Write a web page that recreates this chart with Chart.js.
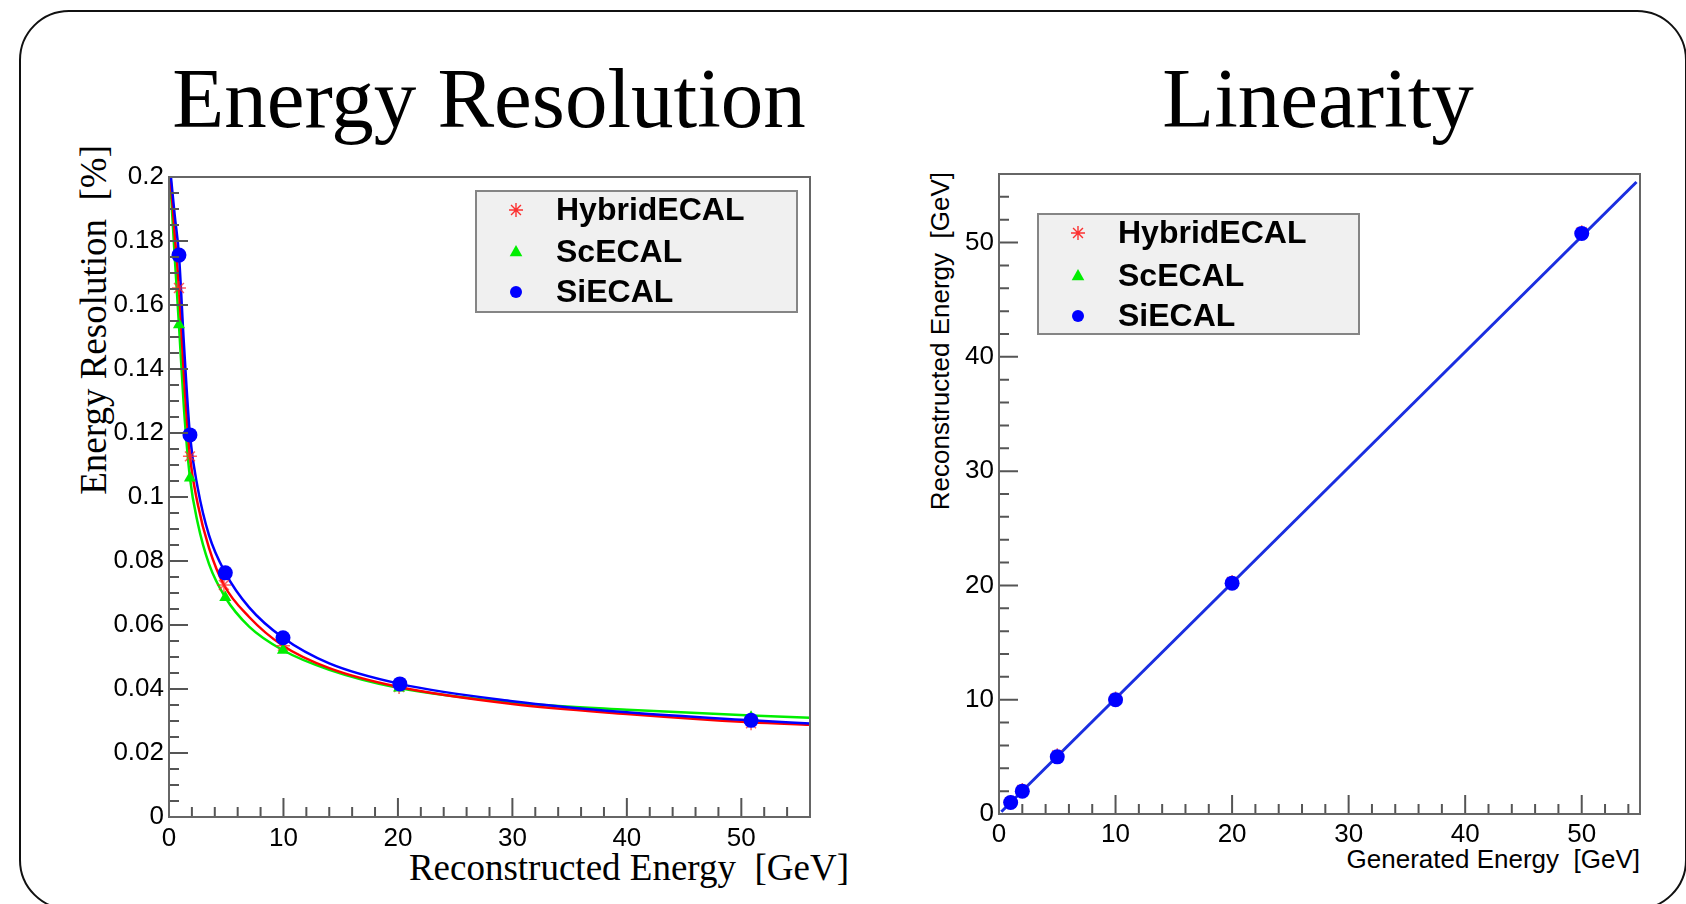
<!DOCTYPE html>
<html>
<head>
<meta charset="utf-8">
<script src="https://cdn.jsdelivr.net/npm/chart.js@4.4.1/dist/chart.umd.min.js"></script>
<style>
  html, body { margin: 0; padding: 0; background: #fff; width: 1686px; height: 904px; overflow: hidden; }
  #frame { position: absolute; left: 19px; top: 10px; width: 1668px; height: 900px; border: 2.5px solid #111; border-radius: 50px; box-sizing: border-box; }
  .title { position: absolute; top: 56px; transform: translateX(-50%); font-family: "Liberation Serif", "Times New Roman", serif; font-size: 85px; line-height: 1; color: #000; white-space: nowrap; }
  .axt { position: absolute; line-height: 1; color: #000; white-space: pre; }
  .serif { font-family: "Liberation Serif", "Times New Roman", serif; font-size: 37px; }
  .sans { font-family: "Liberation Sans", Arial, sans-serif; font-size: 26px; }
  .vert { transform-origin: 0 0; transform: rotate(-90deg) translateX(-100%); }
  .endx { transform: translateX(-100%); }
  canvas { position: absolute; }
</style>
</head>
<body>
<div id="frame"></div>
<div class="title" style="left:489px">Energy Resolution</div>
<div class="title" style="left:1318px">Linearity</div>
<div class="axt serif vert" style="left:75px; top:145px">Energy Resolution  [%]</div>
<div class="axt serif endx" style="left:849px; top:849px">Reconstructed Energy  [GeV]</div>
<div class="axt sans vert" style="left:927px; top:172px">Reconstructed Energy  [GeV]</div>
<div class="axt sans endx" style="left:1640px; top:846px">Generated Energy  [GeV]</div>
<div style="position:absolute;left:60px;top:150px;width:780px;height:740px"><canvas id="res" width="780" height="740"></canvas></div>
<div style="position:absolute;left:900px;top:150px;width:770px;height:740px"><canvas id="lin" width="770" height="740"></canvas></div>
<script>
// ---- Energy resolution: measured points (x = reconstructed energy, GeV) ----
const hybridE   = [0.87, 1.83, 4.8, 9.96, 20.1, 50.85];
const hybridRes = [0.1653, 0.1127, 0.0725, 0.0535, 0.0406, 0.0293];
const scE       = [0.87, 1.83, 4.92, 9.96, 20.1, 50.85];
const scRes     = [0.1538, 0.1059, 0.0686, 0.0521, 0.0403, 0.0312];
const siE       = [0.87, 1.83, 4.92, 9.96, 20.17, 50.85];
const siRes     = [0.1756, 0.1194, 0.0763, 0.0560, 0.0416, 0.0302];

// ---- Energy resolution: fitted curves, sampled along the axis ----
const hybridFitE   = [0.13, 0.5, 0.87, 1.3, 1.83, 2.5, 3.5, 4.8, 7, 9.96, 14, 20.1, 30, 40, 50.85, 56];
const hybridFitRes = [0.2, 0.182, 0.1653, 0.138, 0.1127, 0.098, 0.084, 0.0725, 0.0625, 0.0535, 0.0465, 0.0406, 0.0353, 0.0322, 0.0296, 0.0288];
const scFitE       = [0.09, 0.5, 0.87, 1.3, 1.83, 2.5, 3.5, 4.92, 7, 9.96, 14, 20.1, 30, 40, 50.85, 56];
const scFitRes     = [0.2, 0.175, 0.1538, 0.128, 0.106, 0.092, 0.079, 0.0686, 0.0595, 0.0521, 0.046, 0.0403, 0.0358, 0.0335, 0.0317, 0.031];
const siFitE       = [0.17, 0.5, 0.87, 1.3, 1.83, 2.5, 3.5, 4.92, 7, 9.96, 14, 20.17, 30, 40, 50.85, 56];
const siFitRes     = [0.2, 0.188, 0.1756, 0.148, 0.1194, 0.103, 0.088, 0.0763, 0.0655, 0.056, 0.048, 0.0416, 0.0362, 0.0327, 0.0302, 0.0292];

// ---- Linearity: generated vs reconstructed energy (GeV) ----
const genE      = [1, 2, 5, 10, 20, 50];
const hybridRec = [1.05, 2.1, 5.15, 10.1, 20.3, 50.9];
const scRec     = [0.95, 1.9, 4.9, 9.9, 20.1, 50.7];
const siRec     = [1.0, 2.0, 5.0, 10.0, 20.2, 50.8];
const linFitGen = [0.2, 54.7];
const linFitRec = [0.2, 55.3];

// ---- Axis ticks and labels ----
const resXTicks  = [0, 10, 20, 30, 40, 50];
const resXLabels = ['0', '10', '20', '30', '40', '50'];
const resYTicks  = [0, 0.02, 0.04, 0.06, 0.08, 0.1, 0.12, 0.14, 0.16, 0.18, 0.2];
const resYLabels = ['0', '0.02', '0.04', '0.06', '0.08', '0.1', '0.12', '0.14', '0.16', '0.18', '0.2'];
const linXTicks  = [0, 10, 20, 30, 40, 50];
const linXLabels = ['0', '10', '20', '30', '40', '50'];
const linYTicks  = [0, 10, 20, 30, 40, 50];
const linYLabels = ['0', '10', '20', '30', '40', '50'];

const seriesNames = ['HybridECAL', 'ScECAL', 'SiECAL'];
const RED = '#ff0000', GREEN = '#00ee00', BLUE = '#0000ff';

const pts = (xs, ys) => xs.map((x, i) => ({ x: x, y: ys[i] }));

// draw one ROOT-like marker
function marker(ctx, style, x, y, r, color) {
  ctx.save();
  ctx.fillStyle = color; ctx.strokeStyle = color;
  if (style === 'circle') {
    ctx.beginPath(); ctx.arc(x, y, r, 0, Math.PI * 2); ctx.fill();
  } else if (style === 'triangle') {
    ctx.beginPath();
    ctx.moveTo(x, y - r); ctx.lineTo(x + r * 0.9, y + r * 0.6); ctx.lineTo(x - r * 0.9, y + r * 0.6);
    ctx.closePath(); ctx.fill();
  } else {
    ctx.lineWidth = 1.4; ctx.globalAlpha = 0.8;
    ctx.beginPath();
    for (let k = 0; k < 4; k++) {
      const a = k * Math.PI / 4;
      ctx.moveTo(x - r * Math.cos(a), y - r * Math.sin(a));
      ctx.lineTo(x + r * Math.cos(a), y + r * Math.sin(a));
    }
    ctx.stroke();
  }
  ctx.restore();
}

// frame, inward ticks and the legend box
const rootStyle = {
  id: 'rootStyle',
  afterDatasetsDraw(chart, args, opts) {
    const ctx = chart.ctx, a = chart.chartArea;
    const sx = chart.scales.x, sy = chart.scales.y;
    ctx.save();
    ctx.strokeStyle = '#555'; ctx.lineWidth = 2;
    ctx.beginPath();
    opts.xMinor.forEach(v => { const p = sx.getPixelForValue(v); ctx.moveTo(p, a.bottom); ctx.lineTo(p, a.bottom - 10); });
    opts.xMajor.forEach(v => { const p = sx.getPixelForValue(v); ctx.moveTo(p, a.bottom); ctx.lineTo(p, a.bottom - 19); });
    opts.yMinor.forEach(v => { const p = sy.getPixelForValue(v); ctx.moveTo(a.left, p); ctx.lineTo(a.left + 10, p); });
    opts.yMajor.forEach(v => { const p = sy.getPixelForValue(v); ctx.moveTo(a.left, p); ctx.lineTo(a.left + 19, p); });
    ctx.stroke();
    ctx.strokeStyle = '#666'; ctx.lineWidth = 2;
    ctx.strokeRect(a.left, a.top, a.right - a.left, a.bottom - a.top);

    const L = opts.legend;
    ctx.fillStyle = '#f0f0f0';
    ctx.fillRect(L.x, L.y, L.w, L.h);
    ctx.strokeStyle = '#858585'; ctx.lineWidth = 2;
    ctx.strokeRect(L.x, L.y, L.w, L.h);
    ctx.font = 'bold 32px "Liberation Sans", Arial, sans-serif';
    ctx.textBaseline = 'middle'; ctx.textAlign = 'left';
    L.items.forEach((it, i) => {
      const yy = L.y + L.rows[i];
      marker(ctx, it.style, L.x + L.mx, yy, it.r, it.color);
      ctx.fillStyle = '#000';
      ctx.fillText(it.text, L.x + L.tx, yy + 1);
    });
    ctx.restore();
  }
};

function steps(lo, hi, step) {
  const out = [];
  for (let v = lo; v <= hi + 1e-9; v += step) out.push(+v.toFixed(6));
  return out;
}

const tickFont = { family: '"Liberation Sans", Arial, sans-serif', size: 26 };

function axis(min, max, ticks, labels, pos, size, pad) {
  return {
    type: 'linear', position: pos, min: min, max: max,
    grid: { display: false, drawTicks: false, tickLength: 0 }, border: { display: false },
    afterBuildTicks: s => { s.ticks = ticks.map(v => ({ value: v })); },
    ticks: {
      font: tickFont, color: '#000', padding: pad, autoSkip: false, maxRotation: 0,
      callback: v => { const i = ticks.findIndex(t => Math.abs(t - v) < 1e-9); return i >= 0 ? labels[i] : ''; }
    },
    afterFit: s => {
      if (pos === 'left') s.width = size; else s.height = size;
      s.paddingTop = 0; s.paddingBottom = 0; s.paddingLeft = 0; s.paddingRight = 0;
    }
  };
}

const legendItems = [
  { text: seriesNames[0], style: 'star', color: RED, r: 7 },
  { text: seriesNames[1], style: 'triangle', color: GREEN, r: 7 },
  { text: seriesNames[2], style: 'circle', color: BLUE, r: 6 }
];

const curve = (label, xs, ys, color, order) => ({
  type: 'line', label: label, data: pts(xs, ys), borderColor: color, borderWidth: 2.5,
  pointRadius: 0, fill: false, cubicInterpolationMode: 'monotone', order: order
});
const scatter = (label, xs, ys, style, color, r, order) => ({
  type: 'scatter', label: label, data: pts(xs, ys), pointStyle: style,
  pointRadius: r, pointBackgroundColor: color, pointBorderColor: color,
  pointBorderWidth: style === 'star' ? 1.5 : 0, order: order
});

new Chart(document.getElementById('res'), {
  data: {
    datasets: [
      scatter(seriesNames[2], siE, siRes, 'circle', BLUE, 7.5, 0),
      scatter(seriesNames[1], scE, scRes, 'triangle', GREEN, 7, 1),
      scatter(seriesNames[0], hybridE, hybridRes, 'star', 'rgba(255,40,40,0.75)', 7, 2),
      curve(seriesNames[2] + ' fit', siFitE, siFitRes, BLUE, 3),
      curve(seriesNames[0] + ' fit', hybridFitE, hybridFitRes, RED, 4),
      curve(seriesNames[1] + ' fit', scFitE, scFitRes, GREEN, 5)
    ]
  },
  options: {
    responsive: false, animation: false, devicePixelRatio: 1,
    layout: { padding: { left: 0, top: 27, right: 30, bottom: 0 } },
    plugins: {
      legend: { display: false }, tooltip: { enabled: false },
      rootStyle: {
        xMajor: resXTicks, xMinor: steps(0, 56, 2), yMajor: resYTicks, yMinor: steps(0, 0.2, 0.005),
        legend: { x: 416, y: 41, w: 321, h: 121, mx: 40, tx: 80, rows: [19, 61, 101], items: legendItems }
      }
    },
    scales: {
      x: axis(0, 56, resXTicks, resXLabels, 'bottom', 73, 6),
      y: axis(0, 0.2, resYTicks, resYLabels, 'left', 109, 5)
    }
  },
  plugins: [rootStyle]
});

new Chart(document.getElementById('lin'), {
  data: {
    datasets: [
      scatter(seriesNames[2], genE, siRec, 'circle', BLUE, 7.5, 0),
      scatter(seriesNames[1], genE, scRec, 'triangle', GREEN, 7, 1),
      scatter(seriesNames[0], genE, hybridRec, 'star', 'rgba(255,40,40,0.75)', 7, 2),
      { type: 'line', label: seriesNames[2] + ' fit', data: pts(linFitGen, linFitRec), borderColor: '#1a2ee0',
        borderWidth: 3, pointRadius: 0, fill: false, order: 3 }
    ]
  },
  options: {
    responsive: false, animation: false, devicePixelRatio: 1,
    layout: { padding: { left: 0, top: 24, right: 30, bottom: 0 } },
    plugins: {
      legend: { display: false }, tooltip: { enabled: false },
      rootStyle: {
        xMajor: linXTicks, xMinor: steps(0, 55, 2), yMajor: linYTicks, yMinor: steps(0, 56, 2),
        legend: { x: 138, y: 64, w: 321, h: 120, mx: 40, tx: 80, rows: [19, 62, 102], items: legendItems }
      }
    },
    scales: {
      x: axis(0, 55, linXTicks, linXLabels, 'bottom', 76, 5),
      y: axis(0, 56, linYTicks, linYLabels, 'left', 99, 5)
    }
  },
  plugins: [rootStyle]
});
</script>
</body>
</html>
